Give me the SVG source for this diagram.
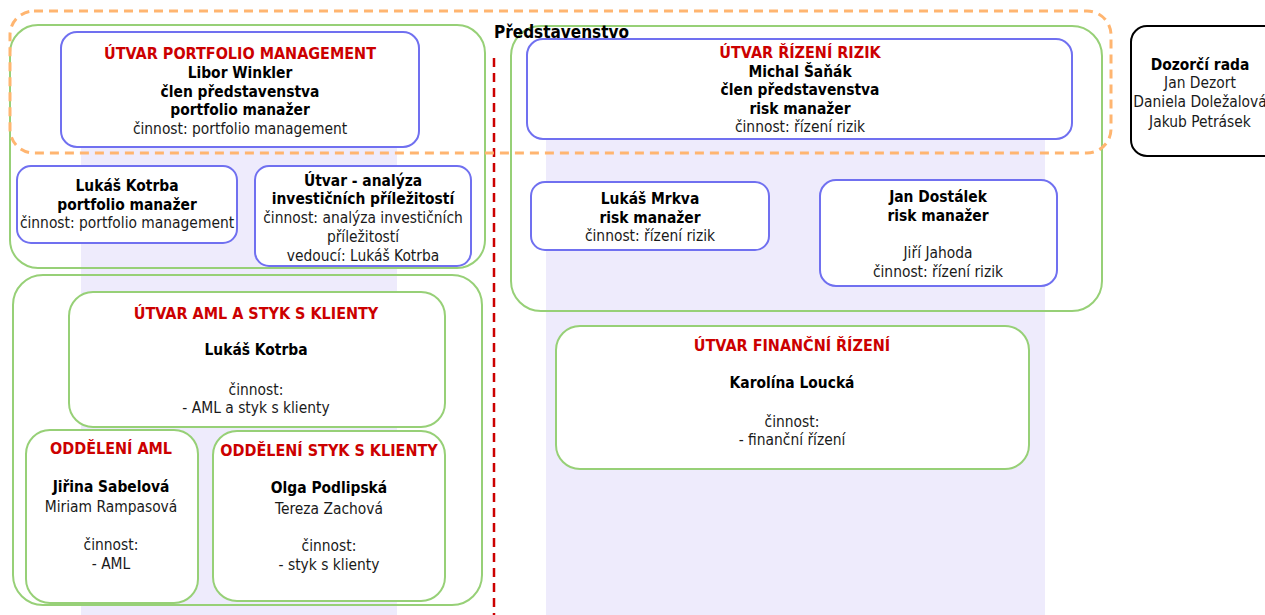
<svg xmlns="http://www.w3.org/2000/svg" width="1265" height="615" viewBox="0 0 1265 615">
<style>
text{font-family:"DejaVu Sans Condensed","DejaVu Sans",sans-serif;font-size:15.4px;fill:#1a1a1a;text-anchor:middle}
.b{font-weight:bold;fill:#000}
.r{font-weight:bold;fill:#CC0000;font-size:16px}
.lav{fill:#EEEBFC;stroke:none}
.grp{fill:none;stroke:#97D077;stroke-width:2}
.gbox{fill:#fff;stroke:#97D077;stroke-width:2}
.bbox{fill:#fff;stroke:#7070F0;stroke-width:2}
.kbox{fill:#fff;stroke:#000;stroke-width:2}
</style>
<rect width="1265" height="615" fill="#fff"/>
<g id="lanes">
<rect class="lav" x="81" y="100" width="316" height="515"/>
<rect class="lav" x="546" y="100" width="499" height="515"/>
</g>
<g id="group-portfolio"><rect class="grp" x="10" y="25" width="475" height="243" rx="28"/></g>
<g id="group-rizeni"><rect class="grp" x="511" y="26" width="591" height="285" rx="30"/></g>
<g id="group-aml"><rect class="grp" x="13" y="275" width="469" height="330" rx="30"/></g>
<g id="connectors">
<line x1="494" y1="58" x2="494" y2="615" stroke="#CC0000" stroke-width="2.5" stroke-dasharray="9,6"/>
</g>
<g id="utvar-portfolio">
<rect class="bbox" x="61" y="32" width="358" height="115" rx="16"/>
<text x="240" y="59"><tspan class="r">ÚTVAR PORTFOLIO MANAGEMENT</tspan><tspan class="b" x="240" y="78">Libor Winkler</tspan><tspan class="b" x="240" y="97">člen představenstva</tspan><tspan class="b" x="240" y="115">portfolio manažer</tspan><tspan x="240" y="134">činnost: portfolio management</tspan></text>
</g>
<g id="kotrba-pm">
<rect class="bbox" x="17" y="166" width="220" height="77" rx="14"/>
<text x="127" y="191"><tspan class="b">Lukáš Kotrba</tspan><tspan class="b" x="127" y="210">portfolio manažer</tspan><tspan x="127" y="228">činnost: portfolio management</tspan></text>
</g>
<g id="utvar-analyza">
<rect class="bbox" x="255" y="166" width="216" height="100" rx="14"/>
<text x="363" y="186"><tspan class="b">Útvar - analýza</tspan><tspan class="b" x="363" y="204">investičních příležitostí</tspan><tspan x="363" y="223">činnost: analýza investičních</tspan><tspan x="363" y="242">příležitostí</tspan><tspan x="363" y="261">vedoucí: Lukáš Kotrba</tspan></text>
</g>
<g id="utvar-rizeni">
<rect class="bbox" x="527" y="39" width="545" height="100" rx="16"/>
<text x="800" y="58"><tspan class="r">ÚTVAR ŘÍZENÍ RIZIK</tspan><tspan class="b" x="800" y="77">Michal Šaňák</tspan><tspan class="b" x="800" y="95">člen představenstva</tspan><tspan class="b" x="800" y="114">risk manažer</tspan><tspan x="800" y="132">činnost: řízení rizik</tspan></text>
</g>
<g id="mrkva">
<rect class="bbox" x="531" y="182" width="238" height="68" rx="14"/>
<text x="650" y="204"><tspan class="b">Lukáš Mrkva</tspan><tspan class="b" x="650" y="223">risk manažer</tspan><tspan x="650" y="241">činnost: řízení rizik</tspan></text>
</g>
<g id="dostalek">
<rect class="bbox" x="820" y="180" width="237" height="106" rx="16"/>
<text x="938" y="202"><tspan class="b">Jan Dostálek</tspan><tspan class="b" x="938" y="221">risk manažer</tspan><tspan x="938" y="258">Jiří Jahoda</tspan><tspan x="938" y="277">činnost: řízení rizik</tspan></text>
</g>
<g id="utvar-aml">
<rect class="gbox" x="69" y="292" width="376" height="135" rx="24"/>
<text x="256" y="319"><tspan class="r">ÚTVAR AML A STYK S KLIENTY</tspan><tspan class="b" x="256" y="355">Lukáš Kotrba</tspan><tspan x="256" y="395">činnost:</tspan><tspan x="256" y="413">- AML a styk s klienty</tspan></text>
</g>
<g id="oddeleni-aml">
<rect class="gbox" x="26" y="430" width="172" height="173" rx="24"/>
<text x="111" y="454"><tspan class="r">ODDĚLENÍ AML</tspan><tspan class="b" x="111" y="492">Jiřina Sabelová</tspan><tspan x="111" y="512">Miriam Rampasová</tspan><tspan x="111" y="550">činnost:</tspan><tspan x="111" y="569">- AML</tspan></text>
</g>
<g id="oddeleni-styk">
<rect class="gbox" x="213" y="431" width="232" height="170" rx="24"/>
<text x="329" y="456"><tspan class="r">ODDĚLENÍ STYK S KLIENTY</tspan><tspan class="b" x="329" y="493">Olga Podlipská</tspan><tspan x="329" y="514">Tereza Zachová</tspan><tspan x="329" y="551">činnost:</tspan><tspan x="329" y="570">- styk s klienty</tspan></text>
</g>
<g id="utvar-financni">
<rect class="gbox" x="556" y="326" width="473" height="143" rx="24"/>
<text x="792" y="351"><tspan class="r">ÚTVAR FINANČNÍ ŘÍZENÍ</tspan><tspan class="b" x="792" y="388">Karolína Loucká</tspan><tspan x="792" y="427">činnost:</tspan><tspan x="792" y="445">- finanční řízení</tspan></text>
</g>
<g id="dozorci-rada">
<rect class="kbox" x="1131" y="26" width="150" height="130" rx="16"/>
<text x="1200" y="70"><tspan class="b">Dozorčí rada</tspan><tspan x="1200" y="88">Jan Dezort</tspan><tspan x="1200" y="107">Daniela Doležalová</tspan><tspan x="1200" y="127">Jakub Petrásek</tspan></text>
</g>
<g id="predstavenstvo">
<rect x="10" y="11" width="1101" height="142" rx="24" fill="none" stroke="#FFB570" stroke-width="3" stroke-dasharray="9,6"/>
<text x="494" y="38" class="b" style="text-anchor:start;font-size:17px">Představenstvo</text>
</g>
</svg>
